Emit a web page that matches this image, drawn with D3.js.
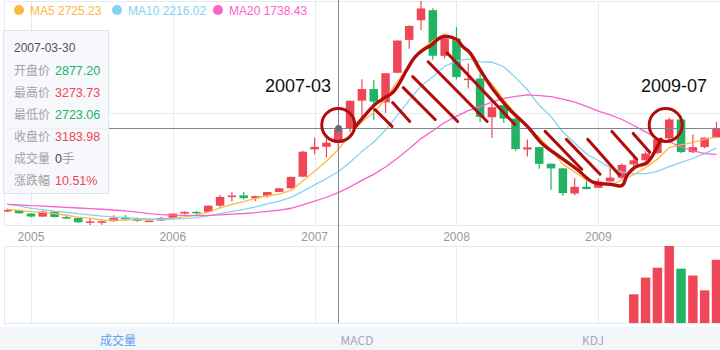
<!DOCTYPE html>
<html lang="zh">
<head>
<meta charset="UTF-8">
<title>K线图</title>
<script src="https://d3js.org/d3.v7.min.js"></script>
<style>
  body { margin: 0; background: #fff; }
  text { font-family: "Liberation Sans", Arial, sans-serif; }
</style>
</head>
<body>
<div id="chart"></div>
<script>
// ---- data (monthly, 2004-11 .. 2009-11) ----
var months = ["2004-11","2004-12",
  "2005-01","2005-02","2005-03","2005-04","2005-05","2005-06","2005-07","2005-08","2005-09","2005-10","2005-11","2005-12",
  "2006-01","2006-02","2006-03","2006-04","2006-05","2006-06","2006-07","2006-08","2006-09","2006-10","2006-11","2006-12",
  "2007-01","2007-02","2007-03","2007-04","2007-05","2007-06","2007-07","2007-08","2007-09","2007-10","2007-11","2007-12",
  "2008-01","2008-02","2008-03","2008-04","2008-05","2008-06","2008-07","2008-08","2008-09","2008-10","2008-11","2008-12",
  "2009-01","2009-02","2009-03","2009-04","2009-05","2009-06","2009-07","2009-08","2009-09","2009-10","2009-11"];

var openP = [1320, 1340,
  1261, 1190, 1306, 1180, 1158, 1059, 1077, 1085, 1162, 1154, 1090, 1101,
  1163, 1260, 1300, 1299, 1441, 1644, 1675, 1612, 1659, 1755, 1838, 2103,
  2728, 2789, 2877.20, 3196, 3843, 4111, 3804, 4481, 5234, 5683, 5914, 4869,
  5265, 4320, 4349, 3464, 3742, 3432, 2726, 2780, 2401, 2294, 1719, 1874,
  1849, 1995, 2079, 2385, 2481, 2646, 2980, 3412, 2664, 2782, 3004];

var highP = [1376, 1347,
  1269, 1329, 1316, 1239, 1163, 1146, 1093, 1223, 1225, 1170, 1121, 1181,
  1259, 1306, 1316, 1445, 1682, 1757, 1757, 1668, 1752, 1838, 2101, 2698,
  2994, 3050, 3273.73, 3848, 4335, 4311, 4476, 5219, 5571, 6124, 5956, 5336,
  5523, 4695, 4472, 3786, 3786, 3447, 2953, 2786, 2401, 2294, 2070, 2100,
  2059, 2403, 2406, 2579, 2689, 2984, 3454, 3479, 3069, 3008, 3361];

var lowP = [1301, 1259,
  1178, 1187, 1167, 1136, 1043, 998.23, 1004, 1080, 1129, 1067, 1074, 1088,
  1152, 1241, 1242, 1298, 1396, 1541, 1582, 1543, 1630, 1752, 1834, 2089,
  2617, 2541, 2723.06, 3125, 3406, 3404, 3563, 4472, 5033, 5462, 4778, 4812,
  4330, 4123, 3357, 2991, 3333, 2692, 2566, 2284, 1802, 1665, 1679, 1814,
  1844, 1992, 2037, 2309, 2447, 2617, 2951, 2639, 2639, 2756, 2990];

var closeP = [1340.77, 1266.50,
  1191.82, 1306.00, 1181.24, 1159.15, 1060.74, 1080.94, 1083.03, 1162.80, 1155.61, 1092.82, 1099.26, 1161.06,
  1258.05, 1299.03, 1298.30, 1440.22, 1641.30, 1672.21, 1612.73, 1658.64, 1752.42, 1837.99, 2099.29, 2675.47,
  2786.34, 2881.07, 3183.98, 3841.27, 4109.65, 3820.70, 4471.03, 5218.83, 5552.30, 5954.77, 4871.78, 5261.56,
  4383.39, 4348.54, 3472.71, 3693.11, 3433.35, 2736.10, 2775.72, 2397.37, 2293.78, 1728.79, 1871.16, 1820.81,
  1990.66, 2082.85, 2373.21, 2477.57, 2632.93, 2959.36, 3412.06, 2667.74, 2779.43, 2995.85, 3195.30];

// volume only exists for the last months of the data
var volume = [0, 0,
  0,0,0,0,0,0,0,0,0,0,0,0,
  0,0,0,0,0,0,0,0,0,0,0,0,
  0,0,0,0,0,0,0,0,0,0,0,0,
  0,0,0,0,0,0,0,0,0,0,0,0,
  0,0,0, 2960, 4690, 5710, 7950, 5610, 4900, 3370, 6530];

// closes before 2004-11 (2003-04 .. 2004-10), only used for the moving averages
var earlierClose = [1521, 1576, 1487, 1476, 1421, 1367, 1348, 1397, 1497, 1590,
  1675, 1742, 1595, 1555, 1399, 1386, 1342, 1396, 1320];

var yearTicks = ["2005-01","2006-01","2007-01","2008-01","2009-01"];
var maNames = ["MA5", "MA10", "MA20"];
var maDays = [5, 10, 20];
var maValuesShown = [2725.23, 2216.02, 1738.43];
var maColors = ["#fdb83f", "#84d2f4", "#fb62cc"];

var hoverMonth = "2007-03", hoverDate = "2007-03-30";
var tabs = ["成交量", "MACD", "KDJ"];

// hand drawn annotation, [month index, price]
var outlineIdx = [29.4, 30.1, 31.1, 31.95, 32.6, 33.2, 33.8, 34.5, 35.2, 35.9, 36.6, 37.45, 38.05, 38.55, 39.15,
  40.0, 41.1, 42.5, 44.0, 45.3, 46.8, 48.2, 49.55, 51.0, 52.0, 52.45, 53.1, 54.1, 54.7, 55.3];
var outlinePrice = [3231, 3459, 3755, 3914, 4028, 4256, 4552, 4848, 5008, 5122, 5281, 5304, 5236, 5076, 4939,
  4552, 4097, 3641, 3254, 2844, 2548, 2274, 1978, 1932, 1900, 2140, 2320, 2420, 2640, 2960];
var hatch = [
  [31.1, 3641, 32.55, 3254], [32.6, 3800, 34.05, 3368], [33.5, 4142, 36.2, 3413],
  [34.3, 4393, 38.1, 3368], [35.6, 4734, 40.6, 3368], [37.2, 4939, 42.95, 3299],
  [45.5, 3140, 48.6, 2274], [47.3, 2958, 50.15, 2160], [49.1, 2958, 51.8, 2138],
  [51.15, 3140, 53.25, 2502], [52.95, 3094, 54.35, 2662]];
var circleIdx = [28.0, 55.7], circlePrice = [3287, 3287];
var noteText = ["2007-03", "2009-07"], noteIdx = [24.6, 56.4], notePrice = [4040, 4040];

// ---- layout ----
var W = 720, H = 350;
var gridL = 4, gridR = 720, mainTop = 1, mainBot = 225, volTop = 246, volBot = 323;
var up = "#ef4758", down = "#22b264", annColor = "#b30c0c";

var svg = d3.select("#chart").append("svg")
  .attr("width", W).attr("height", H);

var n = months.length;
var x = d3.scaleBand().domain(months).range([1.4, 1.4 + n * 11.82]).padding(0);
var bw = x.bandwidth();
var cx = function(m) { return x(m) + bw / 2; };
var xi = d3.scaleLinear().domain([0, n - 1]).range([cx(months[0]), cx(months[n - 1])]);

var y = d3.scaleLinear().domain([d3.min(lowP), d3.max(highP)]).range([mainBot, mainTop]);
var yv = d3.scaleLinear().domain([0, d3.max(volume)]).range([volBot, volTop]);

svg.append("clipPath").attr("id", "clipMain").append("rect")
  .attr("x", gridL).attr("y", 0).attr("width", gridR - gridL).attr("height", mainBot + 1);
svg.append("clipPath").attr("id", "clipVol").append("rect")
  .attr("x", gridL).attr("y", volTop).attr("width", gridR - gridL).attr("height", volBot - volTop);

// grid lines
var grid = svg.append("g").attr("stroke", "#e6eaf1").attr("stroke-width", 1);
var yTicks = [y.domain()[1], (y.domain()[0] + y.domain()[1]) / 2];
grid.selectAll(".h").data(yTicks).enter().append("line")
  .attr("x1", gridL).attr("x2", gridR)
  .attr("y1", function(d) { return Math.round(y(d)) + 0.5; })
  .attr("y2", function(d) { return Math.round(y(d)) + 0.5; });
grid.selectAll(".v").data(yearTicks).enter().append("line")
  .attr("x1", function(d) { return Math.round(cx(d)) + 0.5; })
  .attr("x2", function(d) { return Math.round(cx(d)) + 0.5; })
  .attr("y1", mainTop).attr("y2", mainBot);
grid.selectAll(".vv").data(yearTicks).enter().append("line")
  .attr("x1", function(d) { return Math.round(cx(d)) + 0.5; })
  .attr("x2", function(d) { return Math.round(cx(d)) + 0.5; })
  .attr("y1", volTop).attr("y2", volBot);
grid.append("line").attr("x1", gridL + 0.5).attr("x2", gridL + 0.5).attr("y1", mainTop).attr("y2", mainBot);
svg.append("rect").attr("x", gridL + 0.5).attr("y", volTop + 0.5)
  .attr("width", gridR - gridL).attr("height", volBot - volTop)
  .attr("fill", "none").attr("stroke", "#e3e8ef");

// x axis
var xAxis = svg.append("g")
  .attr("transform", "translate(0," + (mainBot + 0.5) + ")")
  .call(d3.axisBottom(x).tickValues(yearTicks).tickSize(0).tickPadding(7)
    .tickFormat(function(d) { return d.slice(0, 4); }));
xAxis.select(".domain").attr("stroke", "#e3e8ef").attr("d", "M" + gridL + ",0H" + gridR);
xAxis.selectAll("text").attr("fill", "#999").style("font-size", "12px")
  .style("font-family", "'Liberation Sans', Arial, sans-serif");

// candles
var idx = d3.range(n);
var main = svg.append("g").attr("clip-path", "url(#clipMain)");
var candle = main.selectAll(".c").data(idx).enter().append("g");
candle.append("line")
  .attr("x1", function(i) { return cx(months[i]); })
  .attr("x2", function(i) { return cx(months[i]); })
  .attr("y1", function(i) { return y(highP[i]); })
  .attr("y2", function(i) { return y(lowP[i]); })
  .attr("stroke", function(i) { return closeP[i] >= openP[i] ? up : down; })
  .attr("stroke-width", 1.2);
candle.append("rect")
  .attr("x", function(i) { return cx(months[i]) - bw * 0.36; })
  .attr("width", bw * 0.72)
  .attr("y", function(i) { return y(Math.max(openP[i], closeP[i])); })
  .attr("height", function(i) { return Math.max(1.5, Math.abs(y(openP[i]) - y(closeP[i]))); })
  .attr("fill", function(i) { return closeP[i] >= openP[i] ? up : down; });

// moving averages
var allClose = earlierClose.concat(closeP);
var off = earlierClose.length;
maDays.forEach(function(days, k) {
  var vals = idx.map(function(i) {
    return d3.mean(allClose.slice(i + off - days + 1, i + off + 1));
  });
  main.append("path").datum(idx)
    .attr("fill", "none").attr("stroke", maColors[k]).attr("stroke-width", 1.3)
    .attr("d", d3.line()
      .x(function(i) { return cx(months[i]); })
      .y(function(i) { return y(vals[i]); }));
});

// volume
svg.append("g").attr("clip-path", "url(#clipVol)")
  .selectAll("rect").data(idx.filter(function(i) { return volume[i] > 0; })).enter().append("rect")
  .attr("x", function(i) { return cx(months[i]) - bw * 0.4; })
  .attr("width", bw * 0.8)
  .attr("y", function(i) { return yv(volume[i]); })
  .attr("height", function(i) { return volBot - yv(volume[i]); })
  .attr("fill", function(i) { return closeP[i] >= openP[i] ? up : down; });

// crosshair
var hi = months.indexOf(hoverMonth);
var hx = Math.round(cx(hoverMonth)) + 0.5, hy = Math.round(y(closeP[hi])) - 0.5;
svg.append("line").attr("x1", hx).attr("x2", hx).attr("y1", 0).attr("y2", volBot)
  .attr("stroke", "#7d8794").attr("stroke-width", 1);
svg.append("line").attr("x1", gridL).attr("x2", gridR).attr("y1", hy).attr("y2", hy)
  .attr("stroke", "#7d8794").attr("stroke-width", 1);
svg.append("circle").attr("cx", hx).attr("cy", hy).attr("r", 3.5).attr("fill", "#5f6b7a");

// annotations
var ann = svg.append("g").attr("fill", "none").attr("stroke", annColor)
  .attr("stroke-linecap", "round").attr("stroke-linejoin", "round");
ann.append("path").datum(d3.range(outlineIdx.length))
  .attr("stroke-width", 3.4)
  .attr("d", d3.line().curve(d3.curveCatmullRom)
    .x(function(k) { return xi(outlineIdx[k]); })
    .y(function(k) { return y(outlinePrice[k]); }));
ann.selectAll(".hatch").data(hatch).enter().append("line")
  .attr("stroke-width", 3)
  .attr("x1", function(d) { return xi(d[0]); }).attr("y1", function(d) { return y(d[1]); })
  .attr("x2", function(d) { return xi(d[2]); }).attr("y2", function(d) { return y(d[3]); });
ann.selectAll(".ring").data(circleIdx).enter().append("circle")
  .attr("stroke-width", 3)
  .attr("cx", function(d) { return xi(d); })
  .attr("cy", function(d, k) { return y(circlePrice[k]); })
  .attr("r", 16.5);
svg.selectAll(".note").data(noteText).enter().append("text")
  .attr("x", function(d, k) { return xi(noteIdx[k]); })
  .attr("y", function(d, k) { return y(notePrice[k]); })
  .attr("text-anchor", "middle").attr("fill", "#111").style("font-size", "18px")
  .text(function(d) { return d; });

// legend
var lg = svg.append("g").attr("transform", "translate(0,10)");
var lgX = [19, 117, 218];
maNames.forEach(function(name, k) {
  lg.append("circle").attr("cx", lgX[k]).attr("cy", 0).attr("r", 5).attr("fill", maColors[k]);
  lg.append("text").attr("x", lgX[k] + 11).attr("y", 4.5).attr("fill", maColors[k])
    .style("font-size", "12px").text(name + " " + maValuesShown[k].toFixed(2));
});

// tooltip
var tip = svg.append("g");
tip.append("rect").attr("x", 3.5).attr("y", 30.5).attr("width", 105).attr("height", 163)
  .attr("fill", "rgba(245,247,251,0.93)").attr("stroke", "#dfe4ee");
tip.append("text").attr("x", 14).attr("y", 52).attr("fill", "#555")
  .style("font-size", "12px").text(hoverDate);
var chg = (closeP[hi] / closeP[hi - 1] - 1) * 100;
var rows = [
  ["开盘价", openP[hi].toFixed(2), openP[hi] < closeP[hi - 1] ? down : up],
  ["最高价", highP[hi].toFixed(2), up],
  ["最低价", lowP[hi].toFixed(2), down],
  ["收盘价", closeP[hi].toFixed(2), up],
  ["成交量", volume[hi] + "", "#444"],
  ["涨跌幅", chg.toFixed(2) + "%", up]];
rows.forEach(function(r, k) {
  var ty = 74.5 + k * 22;
  tip.append("text").attr("x", 14).attr("y", ty).attr("fill", "#a3a3a3")
    .style("font-size", "12px").style("font-family", "'Noto Sans CJK SC', sans-serif").text(r[0]);
  var t = tip.append("text").attr("x", 55).attr("y", ty).style("font-size", "12.5px");
  t.append("tspan").attr("fill", r[2]).text(r[1]);
  if (k === 4) t.append("tspan").attr("fill", "#a3a3a3")
    .style("font-family", "'Noto Sans CJK SC', sans-serif").text("手");
});

// indicator tabs
svg.append("rect").attr("x", 0).attr("y", 327).attr("width", W).attr("height", H - 327).attr("fill", "#f3f6f8");
var tabX = [118, 357, 593];
tabs.forEach(function(t, k) {
  svg.append("text").attr("x", tabX[k]).attr("y", 345).attr("text-anchor", "middle")
    .attr("fill", k === 0 ? "#5f9ff0" : "#a2aab6").style("font-size", "12px")
    .style("font-family", "'Noto Sans CJK SC', 'Liberation Sans', sans-serif").text(t);
});
</script>
</body>
</html>
